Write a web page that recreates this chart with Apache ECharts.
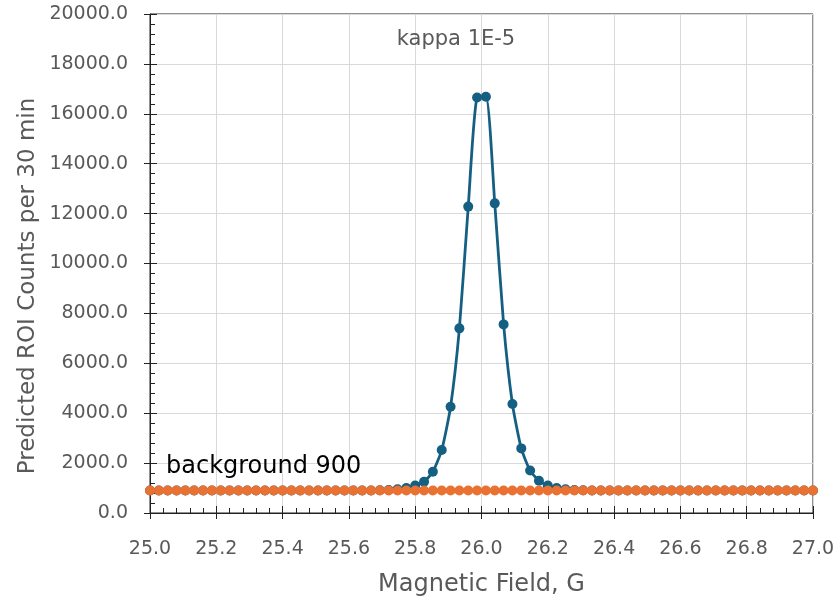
<!DOCTYPE html>
<html>
<head>
<meta charset="utf-8">
<script src="https://cdn.jsdelivr.net/npm/echarts@6/dist/echarts.min.js"></script>
<style>html,body{margin:0;padding:0;background:#fff;}#c{width:840px;height:603px;}</style>
</head>
<body>
<div id="c"></div>
<script>
const fieldG = [
25.0000, 25.0267, 25.0533, 25.0800, 25.1067, 25.1333, 25.1600, 25.1867, 25.2133, 25.2400,
25.2667, 25.2933, 25.3200, 25.3467, 25.3733, 25.4000, 25.4267, 25.4533, 25.4800, 25.5067,
25.5333, 25.5600, 25.5867, 25.6133, 25.6400, 25.6667, 25.6933, 25.7200, 25.7467, 25.7733,
25.8000, 25.8267, 25.8533, 25.8800, 25.9067, 25.9333, 25.9600, 25.9867, 26.0133, 26.0400,
26.0667, 26.0933, 26.1200, 26.1467, 26.1733, 26.2000, 26.2267, 26.2533, 26.2800, 26.3067,
26.3333, 26.3600, 26.3867, 26.4133, 26.4400, 26.4667, 26.4933, 26.5200, 26.5467, 26.5733,
26.6000, 26.6267, 26.6533, 26.6800, 26.7067, 26.7333, 26.7600, 26.7867, 26.8133, 26.8400,
26.8667, 26.8933, 26.9200, 26.9467, 26.9733, 27.0000
];
const predictedCounts = [
900, 900, 900, 900, 900, 900, 900, 900, 900, 900,
900, 900, 900, 900, 900, 900, 900, 900, 900, 900,
900, 900, 900, 900, 901, 903, 910, 925, 950, 1000,
1100, 1255, 1655, 2525, 4260, 7400, 12280, 16650, 16680, 12410,
7560, 4370, 2590, 1700, 1295, 1100, 1000, 950, 925, 910,
903, 901, 900, 900, 900, 900, 900, 900, 900, 900,
900, 900, 900, 900, 900, 900, 900, 900, 900, 900,
900, 900, 900, 900, 900, 900
];
const backgroundCounts = [
900, 900, 900, 900, 900, 900, 900, 900, 900, 900,
900, 900, 900, 900, 900, 900, 900, 900, 900, 900,
900, 900, 900, 900, 900, 900, 900, 900, 900, 900,
900, 900, 900, 900, 900, 900, 900, 900, 900, 900,
900, 900, 900, 900, 900, 900, 900, 900, 900, 900,
900, 900, 900, 900, 900, 900, 900, 900, 900, 900,
900, 900, 900, 900, 900, 900, 900, 900, 900, 900,
900, 900, 900, 900, 900, 900
];
const chartTitle = "kappa 1E-5";
const bgLabel = "background 900";
const xName = "Magnetic Field, G";
const yName = "Predicted ROI Counts per 30 min";

const FONT = 'DejaVu Sans, Verdana, sans-serif';
const chart = echarts.init(document.getElementById('c'), null, {renderer: 'canvas'});
const labelFont = {color: '#595959', fontSize: 19, fontFamily: FONT};
const xCommon = {type: 'value', min: 25, max: 27, interval: 0.2};
const yCommon = {type: 'value', min: 0, max: 20000, interval: 2000};
chart.setOption({
  animation: false,
  title: [
    {text: chartTitle, left: 451, top: 24, textAlign: 'center',
     textStyle: {color: '#595959', fontSize: 21, fontWeight: 'normal', fontFamily: FONT}},
    {text: bgLabel, left: 161, top: 450,
     textStyle: {color: '#000', fontSize: 24, fontWeight: 'normal', fontFamily: FONT}}
  ],
  graphic: [
    {type: 'text', x: 28, y: 286, rotation: Math.PI / 2,
     style: {text: yName, fill: '#595959', font: '23px ' + FONT, textAlign: 'center', textVerticalAlign: 'middle'}}
  ],
  grid: {left: 150, right: 27, top: 14, bottom: 90, show: true, borderColor: '#222', borderWidth: 1, backgroundColor: 'transparent'},
  xAxis: [
    Object.assign({}, xCommon, {
      name: xName, nameLocation: 'middle', nameGap: 60,
      nameTextStyle: {color: '#595959', fontSize: 24, fontFamily: FONT},
      axisLine: {show: true, onZero: false, lineStyle: {color: '#222', width: 1}},
      axisTick: {show: true, inside: true, length: 7, lineStyle: {color: '#222'}},
      minorTick: {show: true, splitNumber: 5, length: 5, lineStyle: {color: '#222'}},
      axisLabel: Object.assign({margin: 27, formatter: v => v.toFixed(1)}, labelFont),
      splitLine: {show: true, lineStyle: {color: '#d9d9d9', width: 1}}
    }),
    Object.assign({}, xCommon, {
      position: 'bottom', axisLine: {show: false},
      axisTick: {show: true, inside: false, length: 6, lineStyle: {color: '#222'}},
      axisLabel: {show: false}, splitLine: {show: false}
    })
  ],
  yAxis: [
    Object.assign({}, yCommon, {
      axisLine: {show: true, onZero: false, lineStyle: {color: '#222', width: 1}},
      axisTick: {show: true, inside: true, length: 7, lineStyle: {color: '#222'}},
      minorTick: {show: true, splitNumber: 5, length: 5, lineStyle: {color: '#222'}},
      axisLabel: Object.assign({margin: 22, formatter: v => v.toFixed(1)}, labelFont),
      splitLine: {show: true, lineStyle: {color: '#d9d9d9', width: 1}}
    }),
    Object.assign({}, yCommon, {
      position: 'left', axisLine: {show: false},
      axisTick: {show: true, inside: false, length: 6, lineStyle: {color: '#222'}},
      axisLabel: {show: false}, splitLine: {show: false}
    })
  ],
  series: [
    {
      type: 'line', name: 'predicted', xAxisIndex: 0, yAxisIndex: 0,
      data: fieldG.map((x, i) => [x, predictedCounts[i]]),
      smooth: 0.2, symbol: 'circle', symbolSize: 10, showSymbol: true,
      lineStyle: {color: '#156082', width: 2.8},
      itemStyle: {color: '#156082'}
    },
    {
      type: 'line', name: 'background', xAxisIndex: 0, yAxisIndex: 0,
      data: fieldG.map((x, i) => [x, backgroundCounts[i]]),
      symbol: 'circle', symbolSize: 10, showSymbol: true,
      lineStyle: {color: '#E97132', width: 2.8},
      itemStyle: {color: '#E97132'}
    }
  ]
});
</script>
</body>
</html>
